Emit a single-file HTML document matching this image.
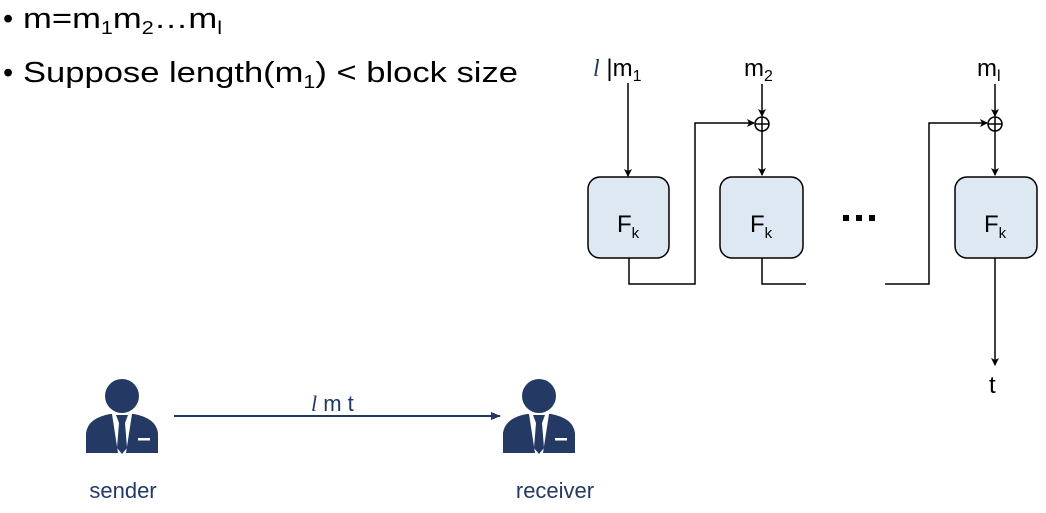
<!DOCTYPE html>
<html><head><style>html,body{margin:0;padding:0;background:#fff}</style></head>
<body>
<svg width="1046" height="508" viewBox="0 0 1046 508" xmlns="http://www.w3.org/2000/svg" font-family="Liberation Sans, sans-serif">
<defs>
<marker id="a" markerWidth="8" markerHeight="8" refX="7" refY="4" orient="auto" markerUnits="userSpaceOnUse"><path d="M0,0 L8,4 L0,8 L2,4z" fill="#000"/></marker>
<marker id="b" markerWidth="10" markerHeight="10" refX="9" refY="5" orient="auto" markerUnits="userSpaceOnUse"><path d="M0,1 L10,5 L0,9z" fill="#1f3864"/></marker>
<g id="p">
<circle cx="36" cy="18" r="17" fill="#243a64"/>
<path d="M0,75 L0,55 Q2,40 24,36 L48,36 Q70,40 72,55 L72,75 Z" fill="#243a64"/>
<path d="M26,36 L46,36 L40,75 L32,75 Z" fill="#fff"/>
<path d="M30,37 L42,37 L39,45 L41,70 L36,76 L31,70 L33,45 Z" fill="#243a64"/>
<rect x="52" y="60" width="12" height="2.5" fill="#fff"/>
</g>
</defs>
<g font-size="29" fill="#000">
<text x="3" y="28">•</text>
<text x="23" y="28" textLength="199" lengthAdjust="spacingAndGlyphs">m=m<tspan font-size="18" dy="6">1</tspan><tspan dy="-6">m</tspan><tspan font-size="18" dy="6">2</tspan><tspan dy="-6">…m</tspan><tspan font-size="18" dy="6">l</tspan></text>
<text x="3" y="82">•</text>
<text x="23" y="82" textLength="495" lengthAdjust="spacingAndGlyphs">Suppose length(m<tspan font-size="18" dy="6">1</tspan><tspan dy="-6">) &lt; block size</tspan></text>
</g>
<g stroke="#000" stroke-width="1.5" fill="none">
<line x1="628" y1="83" x2="628" y2="176" marker-end="url(#a)"/>
<polyline points="629,258 629,284 695,284 695,123 754,123" marker-end="url(#a)"/>
<line x1="762" y1="84" x2="762" y2="116" marker-end="url(#a)"/>
<circle cx="762" cy="124" r="7"/>
<line x1="755" y1="124" x2="769" y2="124"/><line x1="762" y1="117" x2="762" y2="131"/>
<line x1="762" y1="131" x2="762" y2="175" marker-end="url(#a)"/>
<polyline points="762,258 762,284 806,284"/>
<polyline points="885,284 929,284 929,123 987,123" marker-end="url(#a)"/>
<line x1="995" y1="84" x2="995" y2="116" marker-end="url(#a)"/>
<circle cx="995" cy="124" r="7"/>
<line x1="988" y1="124" x2="1002" y2="124"/><line x1="995" y1="117" x2="995" y2="131"/>
<line x1="995" y1="131" x2="995" y2="175" marker-end="url(#a)"/>
<line x1="995" y1="258" x2="995" y2="365" marker-end="url(#a)"/>
</g>
<g fill="#dee8f3" stroke="#000" stroke-width="1.5">
<rect x="588" y="177" width="81" height="81" rx="12"/>
<rect x="720" y="177" width="83" height="81" rx="12"/>
<rect x="955" y="177" width="82" height="81" rx="12"/>
</g>
<g font-size="24" fill="#000">
<text x="617" y="232">F<tspan font-size="15" dy="6">k</tspan></text>
<text x="750" y="232">F<tspan font-size="15" dy="6">k</tspan></text>
<text x="984" y="232">F<tspan font-size="15" dy="6">k</tspan></text>
<text x="593" y="76"><tspan font-family="Liberation Serif, serif" font-style="italic" fill="#1f3864">l</tspan> |m<tspan font-size="16" dy="5">1</tspan></text>
<text x="744" y="76">m<tspan font-size="16" dy="5">2</tspan></text>
<text x="977" y="76">m<tspan font-size="16" dy="5">l</tspan></text>
<text x="989" y="393">t</text>
</g>
<g fill="#000"><rect x="843" y="215" width="6" height="6"/><rect x="856" y="215" width="6" height="6"/><rect x="869" y="215" width="6" height="6"/></g>
<use href="#p" x="86" y="378"/>
<use href="#p" x="503" y="378"/>
<line x1="174" y1="416" x2="500" y2="416" stroke="#1f3864" stroke-width="2" marker-end="url(#b)"/>
<text x="311" y="411" font-size="22" fill="#1f3864"><tspan font-family="Liberation Serif, serif" font-style="italic">l</tspan> m t</text>
<text x="123" y="498" font-size="22" fill="#243a64" text-anchor="middle">sender</text>
<text x="555" y="498" font-size="22" fill="#243a64" text-anchor="middle">receiver</text>
</svg>
</body></html>
